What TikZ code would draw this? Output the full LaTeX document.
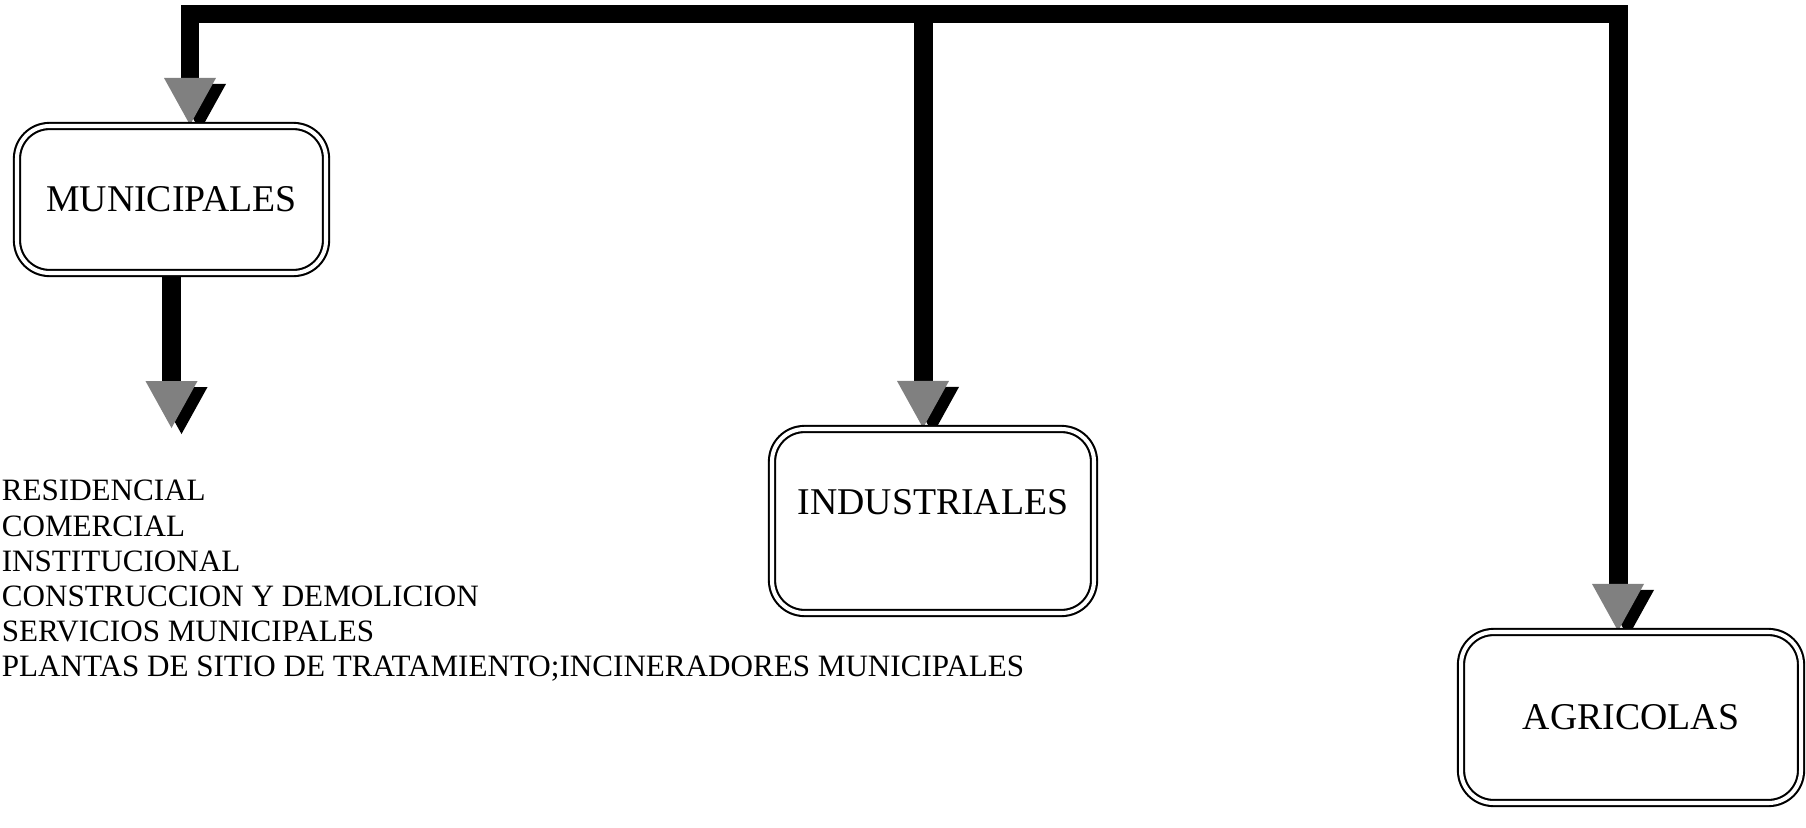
\documentclass[tikz,border=0pt]{standalone}
\usepackage{fontspec}
\setmainfont{Liberation Serif}
\usetikzlibrary{calc, backgrounds}

\begin{document}
\begin{tikzpicture}[
    caja/.style={draw, double, double distance=2.3pt, line width=1.2pt, rounded corners=0.65cm, fill=white, inner sep=0pt, font=\fontsize{21.5}{26}\selectfont},
    tronco/.style={line width=10.8pt},
    punta/.style={fill=black!50},
    sombra/.style={fill=black}
]
    \useasboundingbox (0,0) rectangle (36.12,-16.54);
    % cajas
    \node[caja, minimum width=6.18cm, minimum height=2.94cm] (mun) at (3.43,-3.99) {MUNICIPALES};
    \node[caja, minimum width=6.44cm, minimum height=3.68cm, text depth=0.76cm] (ind) at (18.66,-10.42) {INDUSTRIALES};
    \node[caja, minimum width=6.8cm, minimum height=3.42cm] (agr) at (32.62,-14.35) {AGRICOLAS};
    \node[anchor=north west, align=left, inner sep=0pt, font=\fontsize{17.7}{20}\selectfont] (lista) at (0.03,-9.6) {RESIDENCIAL\\COMERCIAL\\INSTITUCIONAL\\CONSTRUCCION Y DEMOLICION\\SERVICIOS MUNICIPALES\\PLANTAS DE SITIO DE TRATAMIENTO;INCINERADORES MUNICIPALES};
    % esquinas y puntas
    \coordinate (esq1) at (3.8,-0.28);
    \coordinate (esq2) at (32.36,-0.28);
    \coordinate (rama) at (18.46,-0.28);
    \coordinate (pm) at (mun.north -| esq1);
    \coordinate (pi) at (ind.north -| rama);
    \coordinate (pa) at (agr.north -| esq2);
    \coordinate (pb) at ($(mun.south)+(0,-3.08)$);
    \begin{scope}[on background layer]
        \draw[tronco] ($(pm)+(0,0.94)$) -- (esq1) -- (esq2) -- ($(pa)+(0,0.94)$);
        \draw[tronco] (rama) -- ($(pi)+(0,0.94)$);
        \draw[tronco] (mun.south) -- ($(pb)+(0,0.94)$);
        \foreach \p in {pm,pi,pa,pb} {
            \fill[sombra] ($(\p)+(0.2,-0.12)$) -- ++(-0.52,0.94) -- ++(1.04,0) -- cycle;
            \fill[punta] (\p) -- ++(-0.52,0.94) -- ++(1.04,0) -- cycle;
        }
    \end{scope}
\end{tikzpicture}
\end{document}
